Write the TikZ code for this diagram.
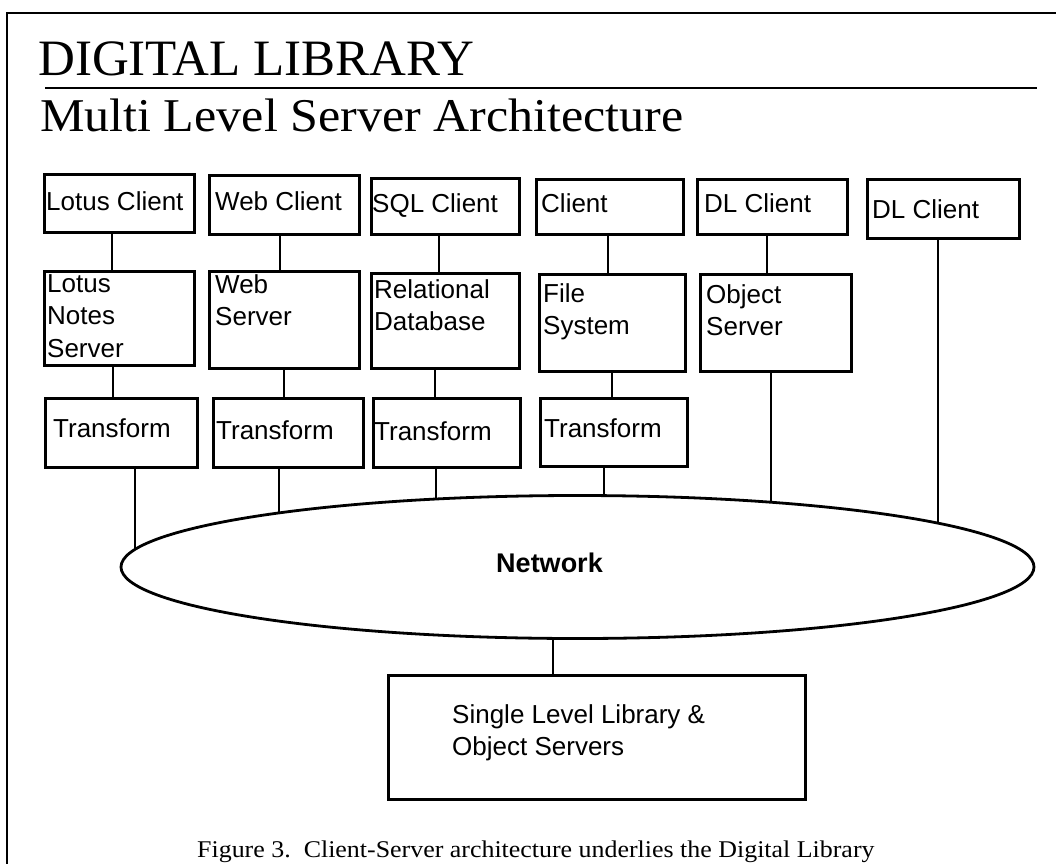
\documentclass[tikz,border=0pt]{standalone}
\usepackage{fontspec}
\usepackage{graphicx}
\setmainfont{Liberation Serif}
\setsansfont{Liberation Sans}
\usetikzlibrary{shapes.geometric,backgrounds}

\newcommand{\drawbx}[5]{%
  \node[bx, minimum width={(#4-#2)*1pt}, minimum height={(#5-#3)*1pt}] (#1) at (#2,#3) {};}
\newcommand{\stk}[1]{\parbox[t]{300pt}{\raggedright #1}}

\tikzset{
  bx/.style={draw, line width=2.5pt, inner sep=0pt, anchor=north west},
  txt/.style={font=\sffamily\fontsize{26}{32.5}\selectfont, inner sep=0pt, anchor=base west},
  conn/.style={line width=2pt},
  frame/.style={line width=2pt},
}

\begin{document}
\begin{tikzpicture}[x=1pt, y=-1pt]
\useasboundingbox (0,0) rectangle (1056,864);

% frame and heading
\draw[frame] (1056,13) -- (7,13) -- (7,864);
\node[inner sep=0pt, anchor=base west, font=\fontsize{51}{55}\selectfont] (title) at (38,76) {DIGITAL LIBRARY};
\draw[line width=2pt] (45,88) -- (1037,88);
\node[inner sep=0pt, anchor=base west] (subtitle) at (40,131) {\scalebox{1.065}[1]{\fontsize{47}{50}\selectfont Multi Level Server Architecture}};

% row 1: clients
\drawbx{A1}{43}{173}{193}{231}
\drawbx{A2}{208}{174}{358}{233}
\drawbx{A3}{370}{177}{518}{233}
\drawbx{A4}{535}{178}{682}{233}
\drawbx{A5}{696}{178}{846}{233}
\drawbx{A6}{866}{178}{1018}{237}
\node[txt] (A1t) at (46,210) {Lotus Client};
\node[txt] (A2t) at (215,210) {Web Client};
\node[txt] (A3t) at (372,212) {SQL Client};
\node[txt] (A4t) at (541,212) {Client};
\node[txt] (A5t) at (704,212) {DL Client};
\node[txt] (A6t) at (872,218) {DL Client};

% row 2: servers
\drawbx{B1}{43}{270}{193}{364}
\drawbx{B2}{208}{270}{358}{367}
\drawbx{B3}{370}{272}{518}{367}
\drawbx{B4}{538}{273}{684}{370}
\drawbx{B5}{699}{273}{850}{370}
\node[txt] (B1t) at (47,292) {\stk{Lotus\\Notes\\Server}};
\node[txt] (B2t) at (215,293) {\stk{Web\\Server}};
\node[txt] (B3t) at (374,298) {\stk{Relational\\Database}};
\node[txt] (B4t) at (543,302) {\stk{File\\System}};
\node[txt] (B5t) at (706,303) {\stk{Object\\Server}};

% row 3: transforms
\drawbx{C1}{44}{397}{196}{466}
\drawbx{C2}{212}{397}{362}{466}
\drawbx{C3}{372}{397}{519}{466}
\drawbx{C4}{539}{397}{686}{465}
\node[txt] (C1t) at (53,437) {Transform};
\node[txt] (C2t) at (216,439) {Transform};
\node[txt] (C3t) at (374,440) {Transform};
\node[txt] (C4t) at (544,437) {Transform};

% network
\node[draw, ellipse, line width=2.8pt, fill=white, inner sep=0pt,
      minimum width=913pt, minimum height=143pt] (net) at (577.5,567) {};
\node[inner sep=0pt, anchor=base, font=\sffamily\bfseries\fontsize{27}{30}\selectfont] (nett) at (549.5,572) {Network};

% single level box
\drawbx{D}{387}{674}{804}{798}
\node[txt] (Dt) at (452,723) {\stk{Single Level Library \&\\Object Servers}};

% connectors
\draw[conn] (A1.south -| 112,0) -- (B1.north -| 112,0);
\draw[conn] (A2.south -| 280,0) -- (B2.north -| 280,0);
\draw[conn] (A3.south -| 439,0) -- (B3.north -| 439,0);
\draw[conn] (A4.south -| 608,0) -- (B4.north -| 608,0);
\draw[conn] (A5.south -| 767,0) -- (B5.north -| 767,0);
\draw[conn] (B1.south -| 113,0) -- (C1.north -| 113,0);
\draw[conn] (B2.south -| 284,0) -- (C2.north -| 284,0);
\draw[conn] (B3.south -| 435,0) -- (C3.north -| 435,0);
\draw[conn] (B4.south -| 612,0) -- (C4.north -| 612,0);
\begin{pgfonlayer}{background}
\draw[conn] (C1.south -| 135,0) -- (net.center -| 135,0);
\draw[conn] (C2.south -| 279,0) -- (net.center -| 279,0);
\draw[conn] (C3.south -| 436,0) -- (net.center -| 436,0);
\draw[conn] (C4.south -| 604,0) -- (net.center -| 604,0);
\draw[conn] (B5.south -| 771,0) -- (net.center -| 771,0);
\draw[conn] (A6.south -| 938,0) -- (net.center -| 938,0);
\end{pgfonlayer}
\draw[conn] (net.south -| 553,0) -- (D.north -| 553,0);

% caption
\node[inner sep=0pt, anchor=base west] (caption) at (197,857) {\scalebox{1.08}[1]{\fontsize{24}{28}\selectfont Figure 3.\ \ Client-Server architecture underlies the Digital Library}};
\end{tikzpicture}
\end{document}
